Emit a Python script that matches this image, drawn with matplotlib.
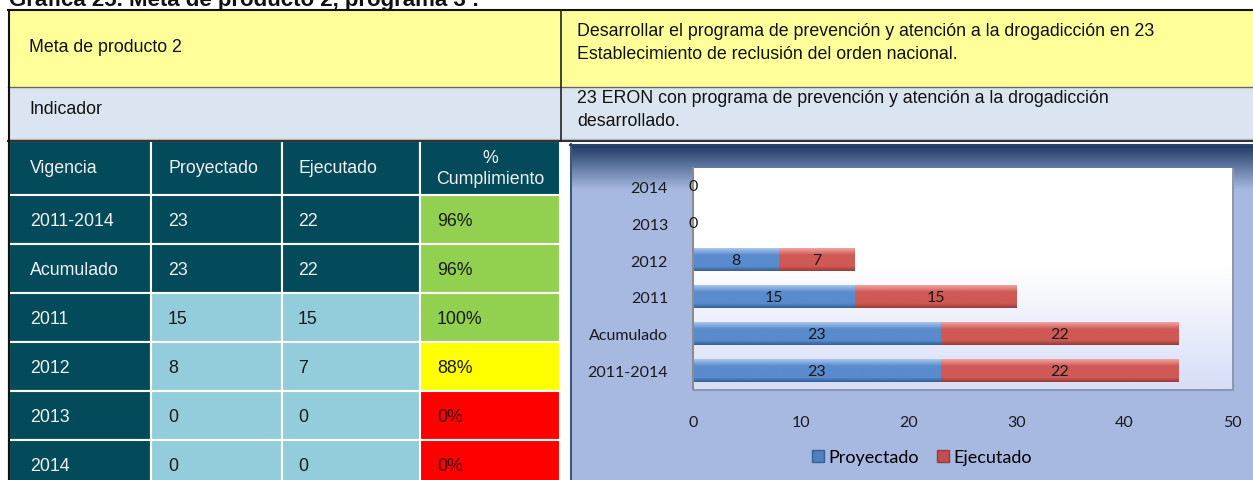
import numpy as np
import matplotlib
matplotlib.use("Agg")
from matplotlib import pyplot as plt
from matplotlib.patches import Rectangle, Patch
from matplotlib.colors import to_rgb

# table / chart data
title = "Gráfica 25. Meta de producto 2, programa 3 :"
meta_label = "Meta de producto 2"
meta_text = ("Desarrollar el programa de prevención y atención a la drogadicción en 23\n"
             "Establecimiento de reclusión del orden nacional.")
ind_label = "Indicador"
ind_text = "23 ERON con programa de prevención y atención a la drogadicción\ndesarrollado."
headers = ["Vigencia", "Proyectado", "Ejecutado", "%\nCumplimiento"]
vigencias = ["2011-2014", "Acumulado", "2011", "2012", "2013", "2014"]
proyectado = [23, 23, 15, 8, 0, 0]
ejecutado = [22, 22, 15, 7, 0, 0]
cumplimiento = ["96%", "96%", "100%", "88%", "0%", "0%"]
x_ticks = [0, 10, 20, 30, 40, 50]

W, H = 1253, 481
DARK = "#034b5b"
LIGHT = "#93cddc"
GREEN = "#92d050"
YELLOW = "#ffff00"
RED = "#ff0000"

fig = plt.figure(figsize=(W / 100, H / 100), dpi=100)
fig.patch.set_facecolor("white")
bg = fig.add_axes([0, 0, 1, 1])
bg.set_xlim(0, W)
bg.set_ylim(H, 0)
bg.axis("off")

arial = "Liberation Sans"
fs = 12.8

# title (cut off at the top edge, as in the source page)
bg.text(9, 6, title, fontsize=16, fontweight="bold", family=arial, va="baseline", color="#111")

# top rows
bg.add_patch(Rectangle((8, 11), W - 8, 77, facecolor="#ffff99", edgecolor="none"))
bg.add_patch(Rectangle((8, 88), W - 8, 53, facecolor="#dbe5f1", edgecolor="none"))
bg.plot([8, W], [11, 11], color="#111", lw=1.5)
bg.plot([8, W], [88, 88], color="#666", lw=1)
bg.plot([8, W], [140, 140], color="#bbb", lw=1)
bg.plot([8, W], [141.5, 141.5], color="#333", lw=1.5)
bg.plot([561, 561], [11, 141], color="#222", lw=1.2)
bg.plot([8.5, 8.5], [11, H], color="#111", lw=1.5)

bg.text(29, 47, meta_label, fontsize=fs, family=arial, va="center", color="#111")
bg.text(577, 43, meta_text, fontsize=fs, family=arial, va="center", color="#111", linespacing=1.45)
bg.text(29, 110, ind_label, fontsize=fs, family=arial, va="center", color="#111")
bg.text(577, 110, ind_text, fontsize=fs, family=arial, va="center", color="#111", linespacing=1.4)

# lower table
col_x = [9, 151, 282, 420, 560]
text_x = [30, 168, 298, 437]
head_top, head_h, row_h = 142, 54, 49

for j in range(4):
    bg.add_patch(Rectangle((col_x[j], head_top), col_x[j + 1] - col_x[j], head_h,
                           facecolor=DARK, edgecolor="white", lw=1.5))
    if j < 3:
        bg.text(text_x[j], head_top + head_h / 2, headers[j], fontsize=fs, family=arial,
                va="center", color="#f0f0f0")
    else:
        bg.text((col_x[3] + col_x[4]) / 2, head_top + head_h / 2, headers[j], fontsize=fs,
                family=arial, va="center", ha="center", color="#f0f0f0", linespacing=1.35)

for i, vig in enumerate(vigencias):
    top = head_top + head_h + i * row_h
    dark_row = i < 2
    pct = int(cumplimiento[i].rstrip("%"))
    pct_col = GREEN if pct >= 95 else (YELLOW if pct >= 80 else RED)
    fills = [DARK, DARK if dark_row else LIGHT, DARK if dark_row else LIGHT, pct_col]
    vals = [vig, str(proyectado[i]), str(ejecutado[i]), cumplimiento[i]]
    for j in range(4):
        bg.add_patch(Rectangle((col_x[j], top), col_x[j + 1] - col_x[j], row_h,
                               facecolor=fills[j], edgecolor="white", lw=1.5))
        tc = "#f0f0f0" if fills[j] == DARK else ("#3a0000" if fills[j] == RED else "#1a1a1a")
        bg.text(text_x[j], top + row_h / 2 + 1, vals[j], fontsize=fs, family=arial,
                va="center", color=tc)

bg.plot([8.5, 8.5], [141, H], color="#111", lw=1.5)

# chart frame with navy-to-periwinkle gradient
navy = np.array(to_rgb("#1b3863"))
peri = np.array(to_rgb("#a7b9e1"))
ys = np.arange(H - 145)
t = np.clip(ys / 45.0, 0, 1)[:, None]
grad = (navy * (1 - t) + peri * t)[:, None, :]
bg.imshow(grad, extent=[570, W, H, 145], origin="upper", aspect="auto", zorder=1)
bg.plot([570.5, 570.5], [145, H], color="#3d5878", lw=1.5, zorder=2)
bg.plot([570, W], [145.5, 145.5], color="#2c4366", lw=1.5, zorder=2)
# plot area shadow
bg.plot([694, 1233], [391, 391], color="#8d98b0", lw=1.5, zorder=2)
bg.plot([1233, 1233], [170, 391], color="#8d98b0", lw=1.5, zorder=2)
bg.set_xlim(0, W)
bg.set_ylim(H, 0)

# bar chart
ax = fig.add_axes([693 / W, 1 - 390 / H, (1232 - 693) / W, (390 - 169) / H])
ax.set_facecolor("white")
pa = np.linspace(0, 1, 200)
tp = np.clip((pa - 0.45) / 0.55, 0, 1)[:, None]
pa_grad = (np.array([1, 1, 1]) * (1 - tp) + np.array(to_rgb("#d6def7")) * tp)[:, None, :]
ax.imshow(pa_grad, extent=[0, 1, 0, 1], transform=ax.transAxes, origin="upper",
          aspect="auto", zorder=0)

ypos = np.arange(len(vigencias))
cfont = "Lato"
b1 = ax.barh(ypos, proyectado, height=0.6, color="#4f81bd", zorder=2)
b2 = ax.barh(ypos, ejecutado, left=proyectado, height=0.6, color="#c0504d", zorder=2)


def shade(bars, light, mid, darkc):
    stops = np.array([to_rgb(light), to_rgb(mid), to_rgb(mid), to_rgb(darkc)])
    pos = np.array([0, 0.3, 0.8, 1])
    r = np.linspace(0, 1, 60)
    g = np.stack([np.interp(r, pos, stops[:, k]) for k in range(3)], axis=1)[:, None, :]
    for rect in bars:
        x0, y0, w, h = rect.get_x(), rect.get_y(), rect.get_width(), rect.get_height()
        if w <= 0:
            continue
        ax.imshow(g, extent=[x0, x0 + w, y0, y0 + h], origin="upper", aspect="auto", zorder=2.5)


shade(b1, "#a9c6ee", "#5a8bcc", "#35609a")
shade(b2, "#f1a4a0", "#cf5955", "#9a3b38")

ax.bar_label(b1, label_type="center", fontsize=11.5, family=cfont, color="#1a1a1a", zorder=4)
ax.bar_label(b2, labels=[str(v) if v else "" for v in ejecutado], label_type="center",
             fontsize=11.5, family=cfont, color="#1a1a1a", zorder=4)

ax.set_xlim(0, 50)
ax.set_ylim(-0.5, len(vigencias) - 0.5)
ax.set_xticks(x_ticks)
ax.set_yticks(ypos)
ax.set_yticklabels(vigencias)
ax.tick_params(axis="both", length=0, labelsize=11.5, labelcolor="#1a1a1a")
ax.tick_params(axis="x", pad=19)
ax.tick_params(axis="y", pad=18)
for lab in ax.get_xticklabels() + ax.get_yticklabels():
    lab.set_family(cfont)
for s in ["top", "right", "bottom"]:
    ax.spines[s].set_visible(False)
ax.spines["left"].set_color("#8c8c8c")
ax.spines["left"].set_linewidth(1.5)

handles = [Patch(facecolor="#4f81bd", edgecolor="#35609a", label="Proyectado"),
           Patch(facecolor="#c0504d", edgecolor="#9a3b38", label="Ejecutado")]
fig.legend(handles=handles, loc="center", bbox_to_anchor=(922 / W, 1 - 458 / H), ncol=2,
           frameon=False, prop={"family": cfont, "size": 13}, handlelength=0.65,
           handleheight=0.65, handletextpad=0.25, columnspacing=1.0)

fig.savefig("out.png", dpi=100)
